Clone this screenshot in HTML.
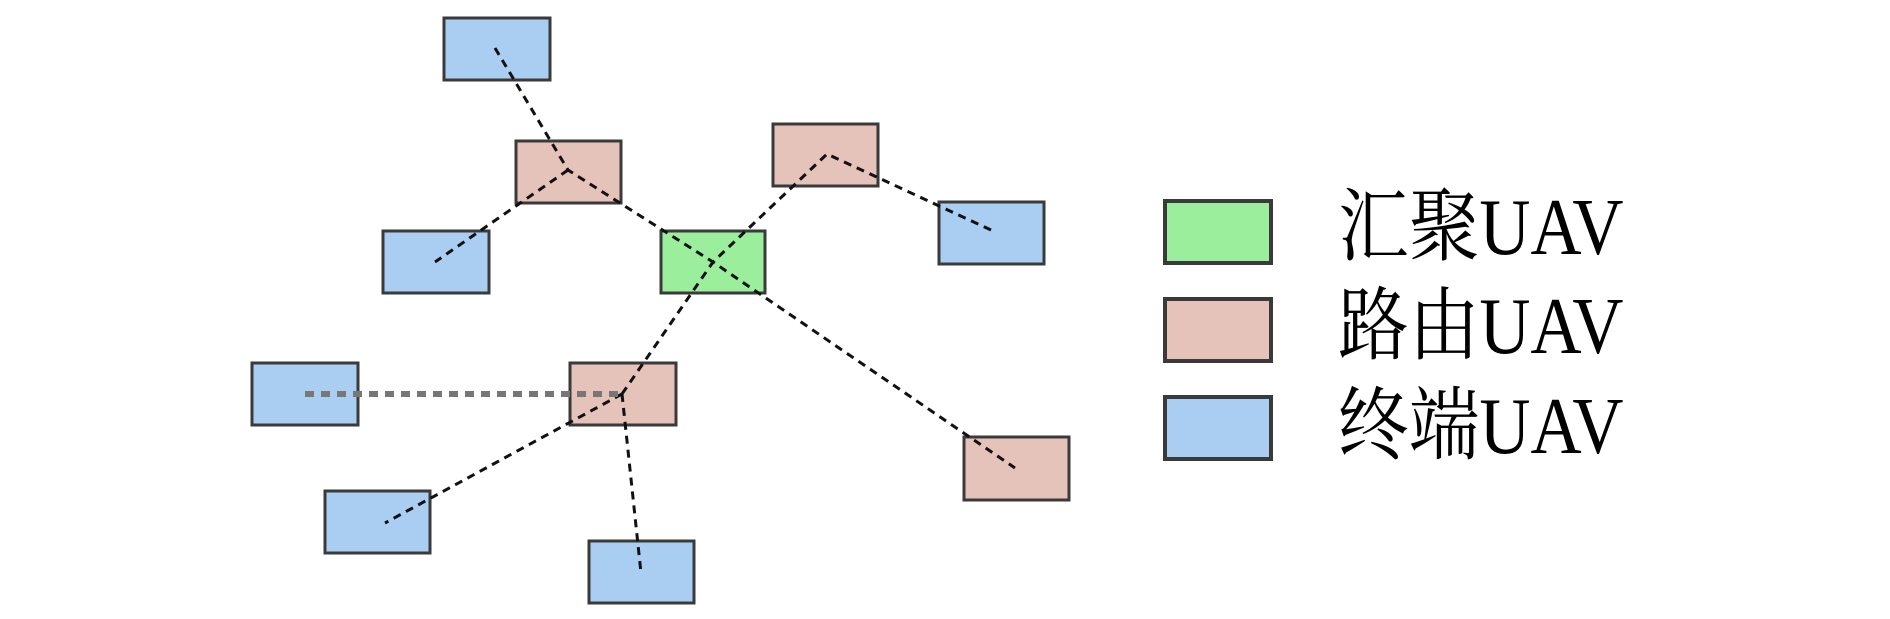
<!DOCTYPE html>
<html><head><meta charset="utf-8"><style>
html,body{margin:0;padding:0;background:#fff;}
svg{display:block}
text{font-family:"Liberation Serif","Noto Serif CJK SC",serif;font-size:68px;fill:#000}
</style></head><body>
<svg width="1890" height="619" viewBox="0 0 1890 619" xmlns="http://www.w3.org/2000/svg">
<g stroke="#3a3a3a" stroke-width="3">
<rect x="444" y="18" width="106" height="62" fill="#aacdf2"/>
<rect x="516" y="141" width="105" height="62" fill="#e6c3ba"/>
<rect x="383" y="231" width="106" height="62" fill="#aacdf2"/>
<rect x="661" y="231" width="104" height="62" fill="#9bee9b"/>
<rect x="773" y="124" width="105" height="62" fill="#e6c3ba"/>
<rect x="939" y="202" width="105" height="62" fill="#aacdf2"/>
<rect x="252" y="363" width="106" height="62" fill="#aacdf2"/>
<rect x="570" y="363" width="106" height="62" fill="#e6c3ba"/>
<rect x="964" y="437" width="105" height="63" fill="#e6c3ba"/>
<rect x="325" y="491" width="105" height="62" fill="#aacdf2"/>
<rect x="589" y="541" width="105" height="62" fill="#aacdf2"/>
</g>
<g fill="none" stroke="#111" stroke-width="3" stroke-dasharray="8,6">
<polyline points="495,48 568,170 713,262 1015,468"/>
<line x1="568" y1="170" x2="435" y2="262"/>
<polyline points="991,230 827,154 713,262 622,394"/>
<line x1="622" y1="394" x2="385" y2="523"/>
<line x1="622" y1="394" x2="641" y2="573"/>
</g>
<line x1="305" y1="394" x2="622" y2="394" stroke="#777" stroke-width="6" stroke-dasharray="9,7"/>
<g stroke="#3a3a3a" stroke-width="4">
<rect x="1165" y="201" width="106" height="62" fill="#9bee9b"/>
<rect x="1165" y="299" width="106" height="62" fill="#e6c3ba"/>
<rect x="1165" y="397" width="106" height="62" fill="#aacdf2"/>
</g>
<g transform="translate(1338,254) scale(1.04,1.18)"><text x="0" y="0">汇聚UAV</text></g>
<g transform="translate(1338,353) scale(1.04,1.18)"><text x="0" y="0">路由UAV</text></g>
<g transform="translate(1338,453) scale(1.04,1.18)"><text x="0" y="0">终端UAV</text></g>
</svg>
</body></html>
